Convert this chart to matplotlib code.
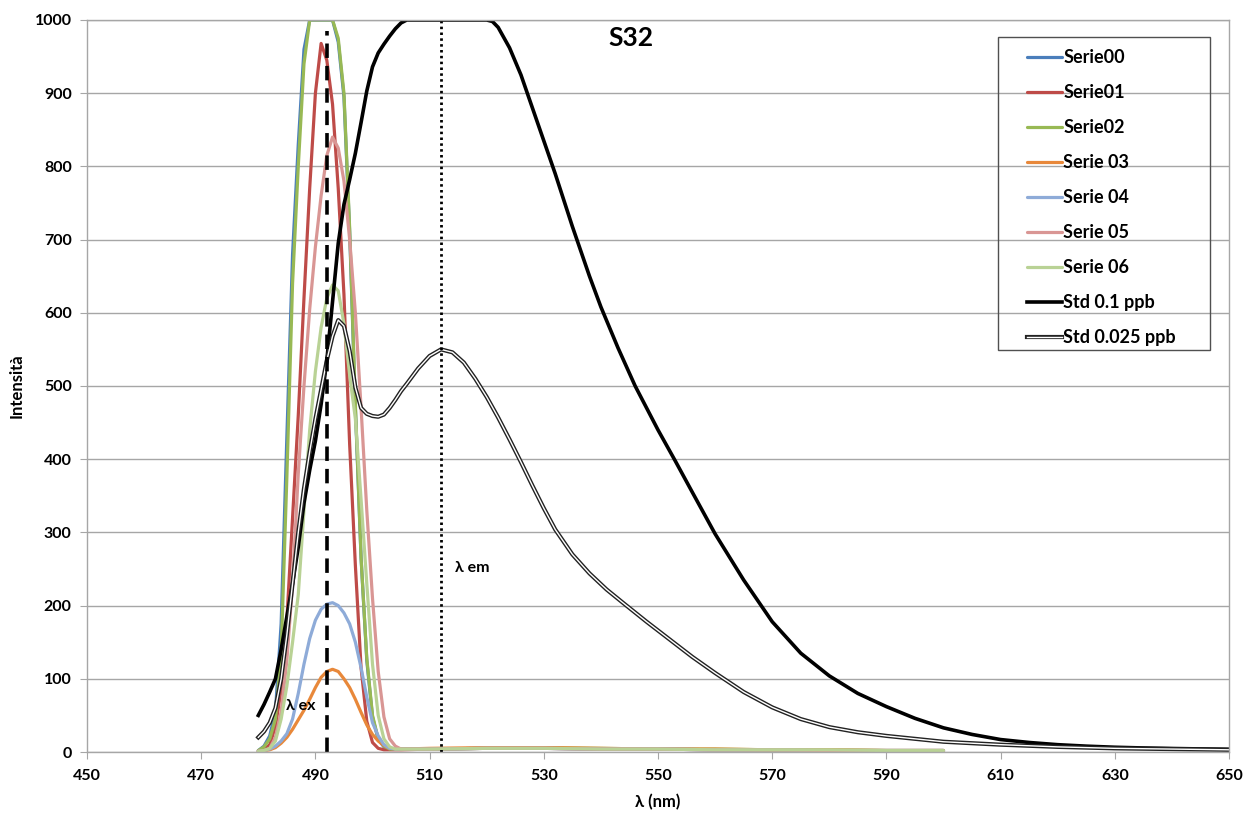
import matplotlib
matplotlib.use("Agg")
import matplotlib.pyplot as plt
from matplotlib.legend_handler import HandlerTuple
from matplotlib.patches import Rectangle

plt.rcParams['font.family'] = ['Lato', 'DejaVu Sans']
plt.rcParams['font.weight'] = 'bold'

# ---------------- data ----------------
wl_series = [480, 481, 482, 483, 484, 485, 486, 487, 488, 489, 490, 491, 492,
             493, 494, 495, 496, 497, 498, 499, 500, 501, 502, 503, 504, 505,
             510, 520, 530, 540, 550, 560, 570, 580, 590, 600]

serie00 = [2, 8, 22, 55, 175, 430, 680, 830, 960, 1000, 1000, 1000, 1000,
           1000, 970, 895, 710, 470, 265, 125, 48, 17, 7, 4, 4, 4,
           4, 5, 5, 4, 4, 3, 3, 2, 2, 2]
serie01 = [1, 3, 10, 35, 85, 180, 320, 460, 620, 770, 900, 968, 945,
           885, 770, 625, 420, 255, 115, 42, 13, 5, 3, 3, 3, 3,
           4, 5, 5, 4, 4, 3, 3, 2, 2, 2]
serie02 = [2, 7, 18, 45, 135, 375, 640, 800, 940, 1000, 1000, 1000, 1000,
           1000, 975, 900, 715, 475, 265, 128, 50, 18, 8, 4, 4, 4,
           4, 5, 6, 5, 4, 4, 3, 3, 2, 2]
serie03 = [1, 2, 3, 6, 12, 20, 31, 44, 57, 72, 88, 102, 110,
           113, 110, 100, 88, 72, 54, 37, 24, 15, 9, 5, 4, 4,
           5, 6, 6, 5, 4, 4, 3, 3, 2, 2]
serie04 = [1, 2, 4, 8, 15, 25, 45, 80, 120, 155, 180, 195, 202,
           204, 200, 190, 175, 150, 115, 75, 40, 22, 10, 5, 4, 4,
           4, 5, 5, 4, 4, 3, 3, 2, 2, 2]
serie05 = [1, 2, 5, 20, 55, 125, 230, 380, 500, 605, 690, 760, 815,
           840, 825, 780, 700, 600, 470, 330, 210, 110, 48, 18, 8, 4,
           4, 5, 5, 4, 4, 3, 3, 2, 2, 2]
serie06 = [1, 2, 5, 15, 45, 90, 150, 215, 330, 440, 520, 580, 620,
           638, 630, 585, 515, 455, 345, 230, 120, 50, 18, 7, 4, 4,
           4, 5, 5, 4, 4, 3, 3, 3, 2, 2]

wl_std01 = [480, 481, 482, 483, 484, 485, 486, 487, 488, 489, 490, 491, 492,
            493, 494, 495, 496, 497, 498, 499, 500, 501, 502, 503, 504, 505,
            506, 510, 515, 520, 521, 522, 524, 526, 528, 530, 532, 535, 538,
            540, 543, 546, 550, 553, 556, 560, 565, 570, 575, 580, 585, 590,
            595, 600, 605, 610, 615, 620, 625, 630, 635, 640, 645, 650]
std01 = [50, 65, 82, 100, 140, 185, 230, 280, 340, 385, 425, 475, 535,
         615, 695, 748, 782, 818, 860, 903, 936, 955, 967, 978, 988, 996,
         1000, 1000, 1000, 1000, 998, 990, 962, 925, 880, 835, 790, 718, 650,
         608, 552, 500, 440, 398, 355, 298, 235, 178, 135, 104, 80, 62,
         46, 33, 24, 17, 13, 10, 8, 6.5, 5.5, 4.8, 4.2, 3.7]

wl_std0025 = [480, 481, 482, 483, 484, 485, 486, 487, 488, 489, 490, 491, 492,
              493, 494, 495, 496, 497, 498, 499, 500, 501, 502, 503, 504, 505,
              506, 508, 510, 512, 514, 516, 518, 520, 522, 524, 526, 528, 530,
              532, 535, 538, 541, 544, 548, 552, 556, 560, 565, 570, 575, 580,
              585, 590, 595, 600, 610, 620, 630, 640, 650]
std0025 = [20, 28, 40, 60, 100, 160, 230, 300, 360, 410, 455, 495, 535,
           568, 590, 582, 548, 498, 470, 462, 459, 458, 461, 470, 481, 493,
           503, 524, 541, 550, 546, 532, 510, 485, 457, 427, 396, 364, 333,
           304, 270, 244, 222, 203, 178, 154, 130, 108, 82, 61, 45, 34,
           27, 22, 18, 14, 10, 7, 5, 4, 3]

lambda_ex = 492
lambda_ex_top = 985
lambda_em = 512
lambda_em_top = 1000

series_names = ['Serie00', 'Serie01', 'Serie02', 'Serie 03', 'Serie 04',
                'Serie 05', 'Serie 06']
series_values = [serie00, serie01, serie02, serie03, serie04, serie05, serie06]
series_colors = ['#4A7EBB', '#BE4B48', '#98B954', '#E8883A', '#8EABD8',
                 '#D99694', '#B9D295']

x_ticks = list(range(450, 651, 20))
y_ticks = list(range(0, 1001, 100))

# ---------------- figure ----------------
W, H = 1249, 816
fig = plt.figure(figsize=(W / 100, H / 100), dpi=100)
ax = fig.add_axes([87 / W, 1 - 752 / H, (1229 - 87) / W, (752 - 20) / H])

ax.set_xlim(450, 650)
ax.set_ylim(0, 1000)
ax.set_xticks(x_ticks)
ax.set_yticks(y_ticks)
ax.yaxis.grid(True, color='#A6A6A6', linewidth=1.0)
ax.set_axisbelow(True)
for sp in ax.spines.values():
    sp.set_color('#A6A6A6')
    sp.set_linewidth(1.0)
ax.tick_params(axis='both', direction='out', length=5, color='#A6A6A6',
               labelsize=11.5)
ax.tick_params(axis='x', pad=7)
ax.tick_params(axis='y', pad=6)
for lab in ax.get_xticklabels() + ax.get_yticklabels():
    lab.set_fontweight('bold')

handles = []
for name, vals, col in zip(series_names, series_values, series_colors):
    ln, = ax.plot(wl_series, vals, color=col, linewidth=2.3,
                  solid_joinstyle='round', solid_capstyle='round')
    handles.append(ln)

ln_std, = ax.plot(wl_std01, std01, color='black', linewidth=2.6,
                  solid_joinstyle='round')
handles.append(ln_std)

ln_a, = ax.plot(wl_std0025, std0025, color='#222222', linewidth=3.0,
                solid_joinstyle='round')
ln_b, = ax.plot(wl_std0025, std0025, color='white', linewidth=1.0,
                solid_joinstyle='round')
handles.append((ln_a, ln_b))

ax.plot([lambda_ex, lambda_ex], [0, lambda_ex_top], color='black',
        linewidth=2.6, linestyle=(0, (4, 2.2)))
ax.plot([lambda_em, lambda_em], [0, lambda_em_top], color='black',
        linewidth=2.0, linestyle=(0, (0.9, 1.2)))

ax.text(484.9, 63, 'λ ex', fontsize=11.5, fontweight='bold', ha='left',
        va='center')
ax.text(514.5, 251, 'λ em', fontsize=11.5, fontweight='bold', ha='left',
        va='center')
ax.text(545.3, 976, 'S32', fontsize=19, fontweight='bold', ha='center',
        va='center')

ax.set_xlabel('λ (nm)', fontsize=12, fontweight='bold', labelpad=8)
ax.set_ylabel('Intensità', fontsize=12, fontweight='bold', labelpad=7)

labels = series_names + ['Std 0.1 ppb', 'Std 0.025 ppb']
leg = fig.legend(handles, labels, loc='upper left',
                 bbox_to_anchor=(1027 / W, 1 - 49 / H),
                 bbox_transform=fig.transFigure, frameon=False,
                 borderpad=0, borderaxespad=0, handlelength=1.95,
                 handletextpad=0.05, labelspacing=1.0,
                 prop={'size': 13, 'weight': 'bold'},
                 handler_map={tuple: HandlerTuple(ndivide=1, pad=0)})
fig.add_artist(Rectangle((998 / W, 1 - 350 / H), 212 / W, 313 / H,
                         transform=fig.transFigure, fill=False,
                         edgecolor='#505050', linewidth=1.0))

fig.savefig('out.png', dpi=100)
